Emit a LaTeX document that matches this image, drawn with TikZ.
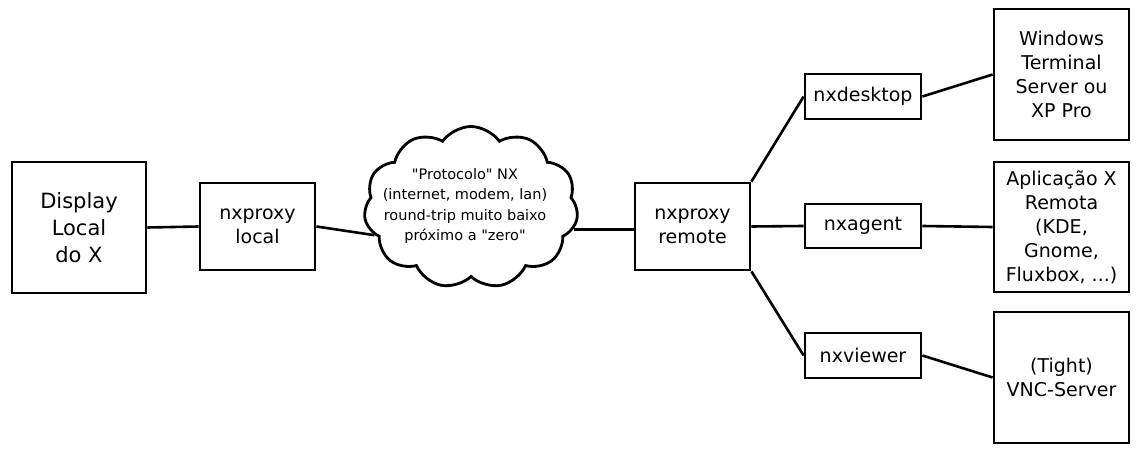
\documentclass[tikz,border=0pt]{standalone}
\usepackage{fontspec}
\setmainfont{DejaVu Sans}
\newfontfamily\plainfont{DejaVu Sans}
\usetikzlibrary{shapes.symbols}
\begin{document}
\begin{tikzpicture}[x=1pt,y=-1pt,
  box/.style={draw=black,line width=2.8pt,fill=white,inner sep=0pt,align=center,
    font=\fontsize{19}{24}\selectfont},
  conn/.style={line width=2.6pt}]
\useasboundingbox (0,0) rectangle (1137,454);
\node[box,minimum width=134,minimum height=131,font=\fontsize{21}{27}\selectfont] (disp) at (79,227.5) {Display\\Local\\do X};
\node[box,minimum width=115,minimum height=87] (local) at (257.5,226.5) {nxproxy\\local};
\node[cloud,draw=black,line width=2.8pt,cloud puffs=11,cloud puff arc=110,
  cloud ignores aspect,minimum width=214,minimum height=162,inner sep=0pt] (cloud) at (471,207.5) {};
\node[align=center,inner sep=0pt,font=\plainfont\fontsize{14.5}{20.5}\selectfont] (cloudtxt) at (465,206)
  {"Protocolo" NX\\(internet, modem, lan)\\round-trip muito baixo\\próximo a "zero"};
\node[box,minimum width=115,minimum height=87] (remote) at (692.5,226.5) {nxproxy\\remote};
\node[box,minimum width=116,minimum height=45] (desk) at (863,96.5) {nxdesktop};
\node[box,minimum width=116,minimum height=44] (agent) at (863,226) {nxagent};
\node[box,minimum width=116,minimum height=45] (view) at (863,355.5) {nxviewer};
\node[box,minimum width=135,minimum height=131] (win) at (1061.5,74.5) {Windows\\Terminal\\Server ou\\XP Pro};
\node[box,minimum width=135,minimum height=130] (app) at (1061.5,227) {Aplicação X\\Remota\\(KDE,\\Gnome,\\Fluxbox, ...)};
\node[box,minimum width=135,minimum height=131] (vnc) at (1061.5,377.5) {(Tight)\\VNC-Server};
\draw[conn] (disp.east) -- (local.west);
\draw[conn] (local.east) -- (cloud.196);
\draw[conn] (cloud.348) -- (cloud.348 -| remote.west);
\draw[conn] (remote.north east) -- (desk.west);
\draw[conn] (remote.east) -- (agent.west);
\draw[conn] (remote.south east) -- (view.west);
\draw[conn] (desk.east) -- (win.west);
\draw[conn] (agent.east) -- (app.west);
\draw[conn] (view.east) -- (vnc.west);
\end{tikzpicture}
\end{document}
